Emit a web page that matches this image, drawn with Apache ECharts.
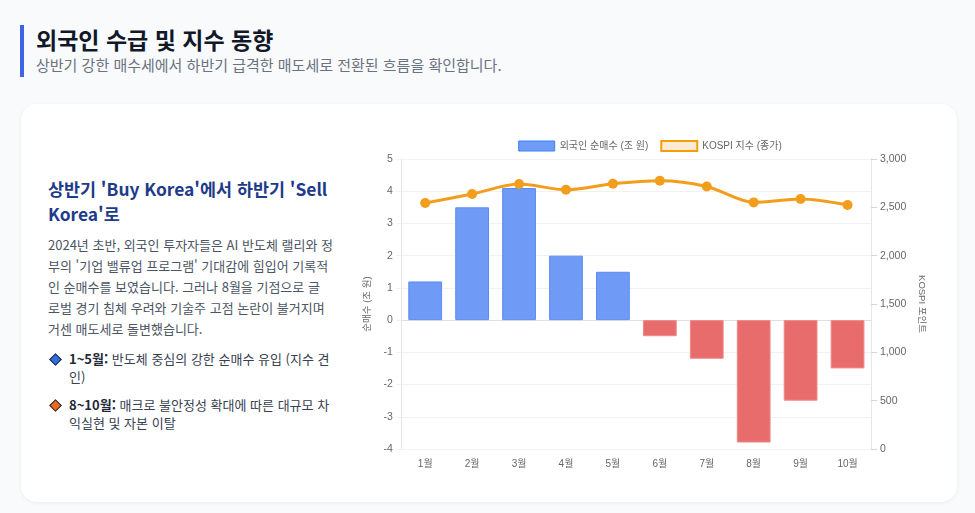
<!DOCTYPE html>
<html lang="ko">
<head>
<meta charset="utf-8">
<script src="https://cdn.jsdelivr.net/npm/echarts@6/dist/echarts.min.js"></script>
<style>
  html, body { margin: 0; padding: 0; }
  body {
    width: 975px; height: 513px; position: relative; overflow: hidden;
    background: #f8fafc; font-family: "Noto Sans CJK KR", "Noto Sans", sans-serif;
  }
  .header {
    position: absolute; left: 20px; top: 25px; height: 52px;
    border-left: 4px solid #3f63e8; padding-left: 12px;
  }
  .header h1 { margin: 0; font-size: 23px; line-height: 29px; font-weight: 700; color: #111827; }
  .header p { margin: 0; font-size: 15px; line-height: 22px; color: #6b7280; }
  .card {
    position: absolute; left: 21px; top: 104px; width: 936px; height: 398px;
    background: #fff; border-radius: 16px; box-shadow: 0 1px 4px rgba(0,0,0,0.06);
  }
  .side { position: absolute; left: 27px; top: 72px; width: 292px; }
  .side h2 { margin: 0 0 8px; font-size: 17.4px; line-height: 25px; font-weight: 700; color: #1e3a8a; }
  .side p { margin: 0 0 11px; width: 300px; font-size: 13px; line-height: 21px; color: #4b5563; }
  .side ul { list-style: none; margin: 0; padding: 0; }
  .side li { position: relative; padding-left: 21px; font-size: 13px; line-height: 18px; color: #374151; margin-bottom: 10px; }
  .side li b { color: #1f2937; }
  .side li::before {
    content: ""; position: absolute; left: 3px; top: 5px; width: 7px; height: 7px;
    transform: rotate(45deg); border: 1px solid #1f2937;
  }
  .side li.up::before { background: #2f6fe0; }
  .side li.down::before { background: #ea6a1f; }
  #chart { position: absolute; left: 334px; top: 16px; width: 590px; height: 370px; }
</style>
</head>
<body>
<div class="header">
  <h1>외국인 수급 및 지수 동향</h1>
  <p>상반기 강한 매수세에서 하반기 급격한 매도세로 전환된 흐름을 확인합니다.</p>
</div>
<div class="card">
  <div class="side">
    <h2>상반기 'Buy Korea'에서 하반기 'Sell Korea'로</h2>
    <p>2024년 초반, 외국인 투자자들은 AI 반도체 랠리와 정<br>부의 '기업 밸류업 프로그램' 기대감에 힘입어 기록적<br>인 순매수를 보였습니다. 그러나 8월을 기점으로 글<br>로벌 경기 침체 우려와 기술주 고점 논란이 불거지며<br>거센 매도세로 돌변했습니다.</p>
    <ul>
      <li class="up"><b>1~5월:</b> 반도체 중심의 강한 순매수 유입 (지수 견인)</li>
      <li class="down"><b>8~10월:</b> 매크로 불안정성 확대에 따른 대규모 차익실현 및 자본 이탈</li>
    </ul>
  </div>
  <div id="chart"></div>
</div>
<script>
var months = ["1월", "2월", "3월", "4월", "5월", "6월", "7월", "8월", "9월", "10월"];
var netBuy = [1.2, 3.5, 4.1, 2.0, 1.5, -0.5, -1.2, -3.8, -2.5, -1.5];
var kospi = [2545, 2638, 2741, 2682, 2744, 2775, 2716, 2551, 2586, 2524];

var labelFont = "Liberation Sans, Noto Sans CJK KR, sans-serif";
var gridColor = "#f1f1f1";

var barData = netBuy.map(function (v) {
    return {
        value: v,
        itemStyle: v >= 0
            ? { color: "#6f9bf6", borderColor: "#5b8cf3", borderWidth: 1 }
            : { color: "#e96c6c", borderColor: "#f08a8a", borderWidth: 1 },
    };
});

var chartDom = document.getElementById("chart");
var myChart = echarts.init(chartDom);

var option = {
    animation: false,
    textStyle: { fontFamily: labelFont },
    legend: {
        top: 15,
        left: "center",
        icon: "rect",
        itemWidth: 36,
        itemHeight: 10,
        itemGap: 12,
        textStyle: { fontSize: 10, color: "#666" },
        data: [
            {
                name: "외국인 순매수 (조 원)",
                itemStyle: { color: "#6f9bf6", borderColor: "#3b82f6", borderWidth: 1 },
            },
            {
                name: "KOSPI 지수 (종가)",
                itemStyle: { color: "#fdebd3", borderColor: "#f59e0b", borderWidth: 2 },
            },
        ],
    },
    grid: {
        left: 45,
        right: 74,
        top: 39,
        bottom: 41,
    },
    xAxis: {
        type: "category",
        data: months,
        axisLine: { lineStyle: { color: "#e0e0e0" } },
        axisTick: { show: false },
        axisLabel: { color: "#666", fontSize: 10, margin: 10 },
    },
    yAxis: [
        {
            type: "value",
            min: -4,
            max: 5,
            interval: 1,
            name: "순매수 (조 원)",
            nameLocation: "middle",
            nameGap: 29,
            nameTextStyle: { color: "#666", fontSize: 9.5 },
            axisLine: { show: true, lineStyle: { color: "#e6e6e6" } },
            axisTick: { show: true, length: 5, lineStyle: { color: gridColor } },
            axisLabel: { color: "#666", fontSize: 10.5, margin: 9 },
            splitLine: { lineStyle: { color: gridColor } },
        },
        {
            type: "value",
            min: 0,
            max: 3000,
            interval: 500,
            position: "right",
            name: "KOSPI 포인트",
            nameLocation: "middle",
            nameRotate: -90,
            nameGap: 46,
            nameTextStyle: { color: "#666", fontSize: 9.5 },
            axisLine: { show: true, lineStyle: { color: "#e6e6e6" } },
            axisTick: { show: true, length: 6, lineStyle: { color: "#d6d6d6" } },
            axisLabel: {
                color: "#666",
                fontSize: 10.5,
                margin: 9,
                formatter: function (v) {
                    return v.toLocaleString("en-US");
                },
            },
            splitLine: { show: false },
        },
    ],
    series: [
        {
            name: "외국인 순매수 (조 원)",
            type: "bar",
            yAxisIndex: 0,
            barWidth: "72%",
            data: barData,
            z: 2,
        },
        {
            name: "KOSPI 지수 (종가)",
            type: "line",
            yAxisIndex: 1,
            data: kospi,
            smooth: 0.3,
            symbol: "circle",
            symbolSize: 10,
            lineStyle: { width: 3, color: "#f29e1c" },
            itemStyle: { color: "#f29e1c" },
            z: 5,
        },
    ],
};

option && myChart.setOption(option);
</script>
</body>
</html>
